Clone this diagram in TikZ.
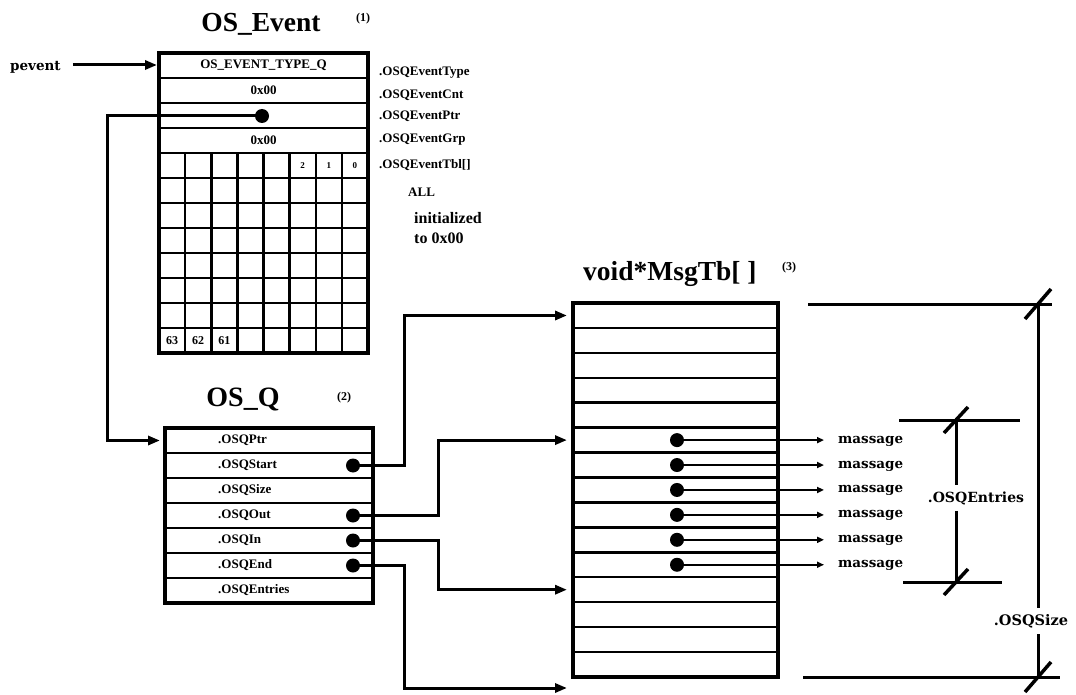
\documentclass[tikz,border=0pt]{standalone}
\usepackage{fontspec}
\setmainfont{Liberation Serif}
\newfontfamily\wideserif{DejaVu Serif}
\usetikzlibrary{arrows.meta}

\tikzset{
  frame/.style={line width=3.5pt},
  sep/.style={line width=2.5pt},
  link/.style={line width=3pt, -{Triangle[length=12pt,width=9pt]}},
  msglink/.style={line width=1.8pt, -{Triangle[length=7pt,width=6pt]}},
  dot/.style={circle, fill=black, inner sep=0pt, minimum size=14pt},
  field/.style={font=\fontsize{13}{14}\selectfont\bfseries, inner sep=0pt},
  title/.style={font=\fontsize{27.5}{29}\selectfont\bfseries, inner sep=0pt},
  idx/.style={font=\fontsize{12}{13}\selectfont\bfseries, inner sep=0pt},
  msg/.style={font=\wideserif\fontsize{13.5}{14}\selectfont\bfseries, inner sep=0pt},
  dim/.style={line width=3pt},
  tick/.style={line width=3.5pt},
}

\begin{document}
\begin{tikzpicture}[x=1pt,y=-1pt]
  \useasboundingbox (0,0) rectangle (1076,695);
  \def\cw{26.125}
  \def\rh{25}
  \def\th{24.93}

  % OS_Event (1)
  \node[title, anchor=base] (evtitle) at (261,32) {OS\_Event};
  \node[idx] (evnum) at (363,19) {(1)};
  \draw[frame] (159,53) rectangle (368,353);
  \foreach \y in {78,103,128,153}
    \draw[sep] (159,\y) -- (368,\y);
  \foreach \j in {1,...,7}
    \draw[sep] (159,153+\j*\rh) -- (368,153+\j*\rh);
  \foreach \i in {1,...,7}
    \draw[sep] (159+\i*\cw,153) -- (159+\i*\cw,353);

  \node[field] (evtype) at (263.5,65.5) {OS\_EVENT\_TYPE\_Q};
  \node[field] (evcnt) at (263.5,90.5) {0x00};
  \node[dot] (evdot) at (262,116) {};
  \node[field] (evgrp) at (263.5,140.5) {0x00};
  \foreach \n [count=\i from 5] in {2,1,0}
    \node[idx, font=\fontsize{9}{10}\selectfont\bfseries] (bit\n) at (159+\i*\cw+0.5*\cw,165.5) {\n};
  \foreach \n [count=\i from 0] in {63,62,61}
    \node[idx] (bit\n) at (159+\i*\cw+0.5*\cw,340.5) {\n};

  \node[field, anchor=west] (lbltype) at (379,73) {.OSQEventType};
  \node[field, anchor=west] (lblcnt) at (379,95) {.OSQEventCnt};
  \node[field, anchor=west] (lblptr) at (379,116) {.OSQEventPtr};
  \node[field, anchor=west] (lblgrp) at (379,140) {.OSQEventGrp};
  \node[field, anchor=west] (lbltbl) at (379,165) {.OSQEventTbl[]};
  \node[field, anchor=west] (lblall) at (408,192) {ALL};
  \node[field, font=\fontsize{16}{17}\selectfont\bfseries, anchor=west] (lblinit) at (414,218) {initialized};
  \node[field, font=\fontsize{16}{17}\selectfont\bfseries, anchor=west] (lblzero) at (414,238) {to 0x00};

  \node[msg, anchor=west] (pevent) at (10,67) {pevent};
  \coordinate (evin) at (157,65);
  \draw[link, shorten <=12pt] (pevent.east |- evin) -- (evin);

  % OS_Q (2)
  \node[title, font=\fontsize{28}{29}\selectfont\bfseries, anchor=base] (qtitle) at (243,406) {OS\_Q};
  \node[idx] (qnum) at (344,398) {(2)};
  \draw[frame] (165,428) rectangle (373,603);
  \foreach \j in {1,...,6}
    \draw[sep] (165,428+\j*\rh) -- (373,428+\j*\rh);
  \foreach \f [count=\j from 0] in {Ptr,Start,Size,Out,In,End,Entries}
    \node[field, anchor=west] (q\f) at (218,440.5+\j*\rh) {.OSQ\f};
  \node[dot] (startdot) at (353,465.5) {};
  \node[dot] (outdot) at (353,515.5) {};
  \node[dot] (indot) at (353,540.5) {};
  \node[dot] (enddot) at (353,565.5) {};

  \coordinate (qin) at (160,440.5);
  \draw[link] (evdot.center) -- ++(-155,0) |- (qin);

  % void*MsgTb[] (3)
  \node[title, font=\fontsize{27.5}{29}\selectfont\bfseries, anchor=base west] (tbltitle) at (583,280) {void*MsgTb[ ]};
  \node[idx] (tblnum) at (789,268) {(3)};
  \draw[frame] (573,303) rectangle (778,677);
  \foreach \j in {1,...,14}
    \draw[sep] (573,303+\j*\th) -- (778,303+\j*\th);

  \coordinate (slot0) at (567,315.5);
  \coordinate (slot5) at (567,440.1);
  \coordinate (slot11) at (567,589.7);
  \coordinate (slotend) at (567,688);
  \draw[link] (startdot.center) -- ++(51,0) |- (slot0);
  \draw[link] (outdot.center) -- ++(85,0) |- (slot5);
  \draw[link] (indot.center) -- ++(85,0) |- (slot11);
  \draw[link] (enddot.center) -- ++(51,0) |- (slotend);

  % messages
  \foreach \j in {0,...,5} {
    \node[dot] (m\j) at (677,440.1+\j*\th) {};
    \node[msg, anchor=west] (txt\j) at (838,441+\j*\th) {massage};
    \draw[msglink, shorten >=14pt] (m\j.center) -- (m\j.center -| txt\j.west);
  }

  % .OSQEntries
  \coordinate (enttop) at (956,420);
  \coordinate (entbot) at (956,582);
  \draw[dim] (899,420) -- (1020,420);
  \draw[dim] (903,582) -- (1002,582);
  \node[msg, font=\wideserif\fontsize{14}{15}\selectfont\bfseries, inner ysep=6pt] (entlbl) at (976,498) {.OSQEntries};
  \draw[dim] (enttop) -- (enttop |- entlbl.north);
  \draw[dim] (entlbl.south -| entbot) -- (entbot);
  \draw[tick] ([shift={(-12,13)}]enttop) -- ([shift={(12,-13)}]enttop);
  \draw[tick] ([shift={(-12,13)}]entbot) -- ([shift={(12,-13)}]entbot);

  % .OSQSize
  \coordinate (sztop) at (1038,304);
  \coordinate (szbot) at (1038,677);
  \draw[dim] (808,304) -- (1052,304);
  \draw[dim] (803,677) -- (1060,677);
  \node[msg, font=\wideserif\fontsize{14.5}{15}\selectfont\bfseries, inner ysep=6pt] (szlbl) at (1031,621) {.OSQSize};
  \draw[dim] (sztop) -- (sztop |- szlbl.north);
  \draw[dim] (szlbl.south -| szbot) -- (szbot);
  \draw[tick] ([shift={(-13,15)}]sztop) -- ([shift={(13,-15)}]sztop);
  \draw[tick] ([shift={(-13,15)}]szbot) -- ([shift={(13,-15)}]szbot);
\end{tikzpicture}
\end{document}
